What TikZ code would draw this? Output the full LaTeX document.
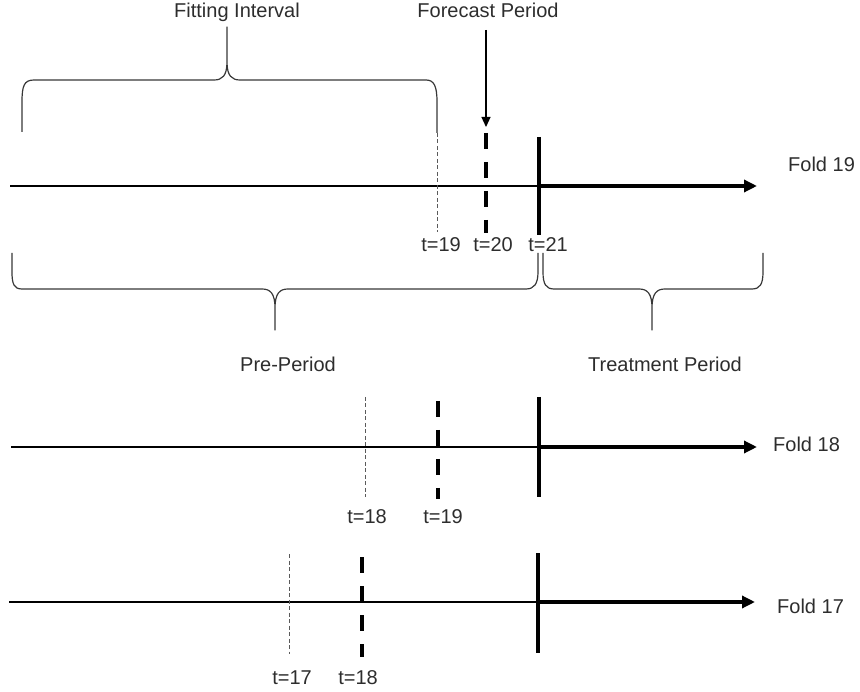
\documentclass[tikz,border=0pt]{standalone}
\usepackage{fontspec}
\setmainfont{Liberation Sans}
\usetikzlibrary{arrows.meta}
\definecolor{txt}{RGB}{45,45,45}
\definecolor{brc}{RGB}{55,55,55}
\definecolor{dotc}{RGB}{90,90,90}
\begin{document}
\begin{tikzpicture}[x=1pt,y=-1pt,
  lbl/.style={font=\fontsize{20}{24}\selectfont, text=txt, inner sep=0pt, anchor=base},
  lblw/.style={lbl, anchor=base west},
  thinaxis/.style={line width=1.2pt, black},
  thickaxis/.style={line width=4pt, black, -{Triangle[length=13pt,width=12pt]}},
  cutline/.style={line width=4pt, black},
  fcline/.style={line width=4pt, black, dash pattern=on 16pt off 13pt},
  fitline/.style={line width=1pt, dotc, dash pattern=on 4pt off 2.5pt},
  bracestyle/.style={line width=1.2pt, brc, line join=round},
  pointer/.style={line width=1.2pt, black, -{Triangle[length=10pt,width=9pt]}}]
\useasboundingbox (0,0) rectangle (860,692);

% ---------- labels on top ----------
\node[lbl] (fitlbl) at (237,18) {Fitting Interval};
\node[lbl] (fclbl) at (488,18) {Forecast Period};

% ---------- Fold 19 ----------
\coordinate (a19s) at (10,186);
\coordinate (a19c) at (540,186);
\coordinate (a19e) at (757,186);
\draw[thinaxis] (a19s) -- (a19c);
\draw[thickaxis] (a19c) -- (a19e);
\coordinate (f19t) at (437,133); \coordinate (f19b) at (437,232);
\draw[fitline] (f19t) -- (f19b);
\coordinate (p19t) at (486,133); \coordinate (p19b) at (486,233);
\draw[fcline] (p19t) -- (p19b);
\coordinate (c19t) at (539,137); \coordinate (c19b) at (539,235);
\draw[cutline] (c19t) -- (c19b);
\node[lblw] (fold19) at (788,172) {Fold 19};
\node[lbl] (t19a) at (441,252) {t=19};
\node[lbl] (t20a) at (493,252) {t=20};
\node[lbl] (t21a) at (548,252) {t=21};

% forecast pointer
\coordinate (ptop) at (486,30);
\coordinate (ptip) at (486,127);
\draw[pointer] (ptop) -- (ptip);

% fitting brace
\coordinate (fiL) at (22,132);
\coordinate (fiT) at (227,27);
\draw[bracestyle] (fiL) -- (22,102) .. controls (22,86) and (24,80) .. (34,80) -- (214,80)
  .. controls (222,80) and (227,76) .. (227,62) -- (fiT) -- (227,62)
  .. controls (227,76) and (232,80) .. (240,80) -- (426,80)
  .. controls (434,80) and (437,86) .. (437,102) -- (f19t);

% pre-period brace
\coordinate (prL) at (12,253);
\coordinate (prT) at (275,330);
\coordinate (prR) at (538,253);
\draw[bracestyle] (prL) -- (12,272) .. controls (12,284) and (14,289) .. (22,289) -- (262,289)
  .. controls (270,289) and (275,293) .. (275,308) -- (prT) -- (275,308)
  .. controls (275,293) and (280,289) .. (288,289) -- (526,289)
  .. controls (534,289) and (538,284) .. (538,272) -- (prR);

% treatment brace
\coordinate (trL) at (543,253);
\coordinate (trT) at (652,330);
\coordinate (trR) at (763,253);
\draw[bracestyle] (trL) -- (543,272) .. controls (543,284) and (546,289) .. (554,289) -- (639,289)
  .. controls (647,289) and (652,293) .. (652,308) -- (trT) -- (652,308)
  .. controls (652,293) and (657,289) .. (665,289) -- (752,289)
  .. controls (760,289) and (763,284) .. (763,272) -- (trR);

\node[lbl] (prelbl) at (288,372) {Pre-Period};
\node[lbl] (trlbl) at (665,372) {Treatment Period};

% ---------- Fold 18 ----------
\coordinate (a18s) at (11,447);
\coordinate (a18c) at (539,447);
\coordinate (a18e) at (757,447);
\draw[thinaxis] (a18s) -- (a18c);
\draw[thickaxis] (a18c) -- (a18e);
\coordinate (f18t) at (365,397); \coordinate (f18b) at (365,497);
\draw[fitline] (f18t) -- (f18b);
\coordinate (p18t) at (438,401); \coordinate (p18b) at (438,499);
\draw[fcline] (p18t) -- (p18b);
\coordinate (c18t) at (539,397); \coordinate (c18b) at (539,497);
\draw[cutline] (c18t) -- (c18b);
\node[lblw] (fold18) at (773,452) {Fold 18};
\node[lbl] (t18b) at (367,523) {t=18};
\node[lbl] (t19b) at (443,523) {t=19};

% ---------- Fold 17 ----------
\coordinate (a17s) at (9,602);
\coordinate (a17c) at (538,602);
\coordinate (a17e) at (755,602);
\draw[thinaxis] (a17s) -- (a17c);
\draw[thickaxis] (a17c) -- (a17e);
\coordinate (f17t) at (289,554); \coordinate (f17b) at (289,654);
\draw[fitline] (f17t) -- (f17b);
\coordinate (p17t) at (362,557); \coordinate (p17b) at (362,657);
\draw[fcline] (p17t) -- (p17b);
\coordinate (c17t) at (538,553); \coordinate (c17b) at (538,653);
\draw[cutline] (c17t) -- (c17b);
\node[lblw] (fold17) at (777,613) {Fold 17};
\node[lbl] (t17c) at (292,684) {t=17};
\node[lbl] (t18c) at (358,684) {t=18};
\end{tikzpicture}
\end{document}
